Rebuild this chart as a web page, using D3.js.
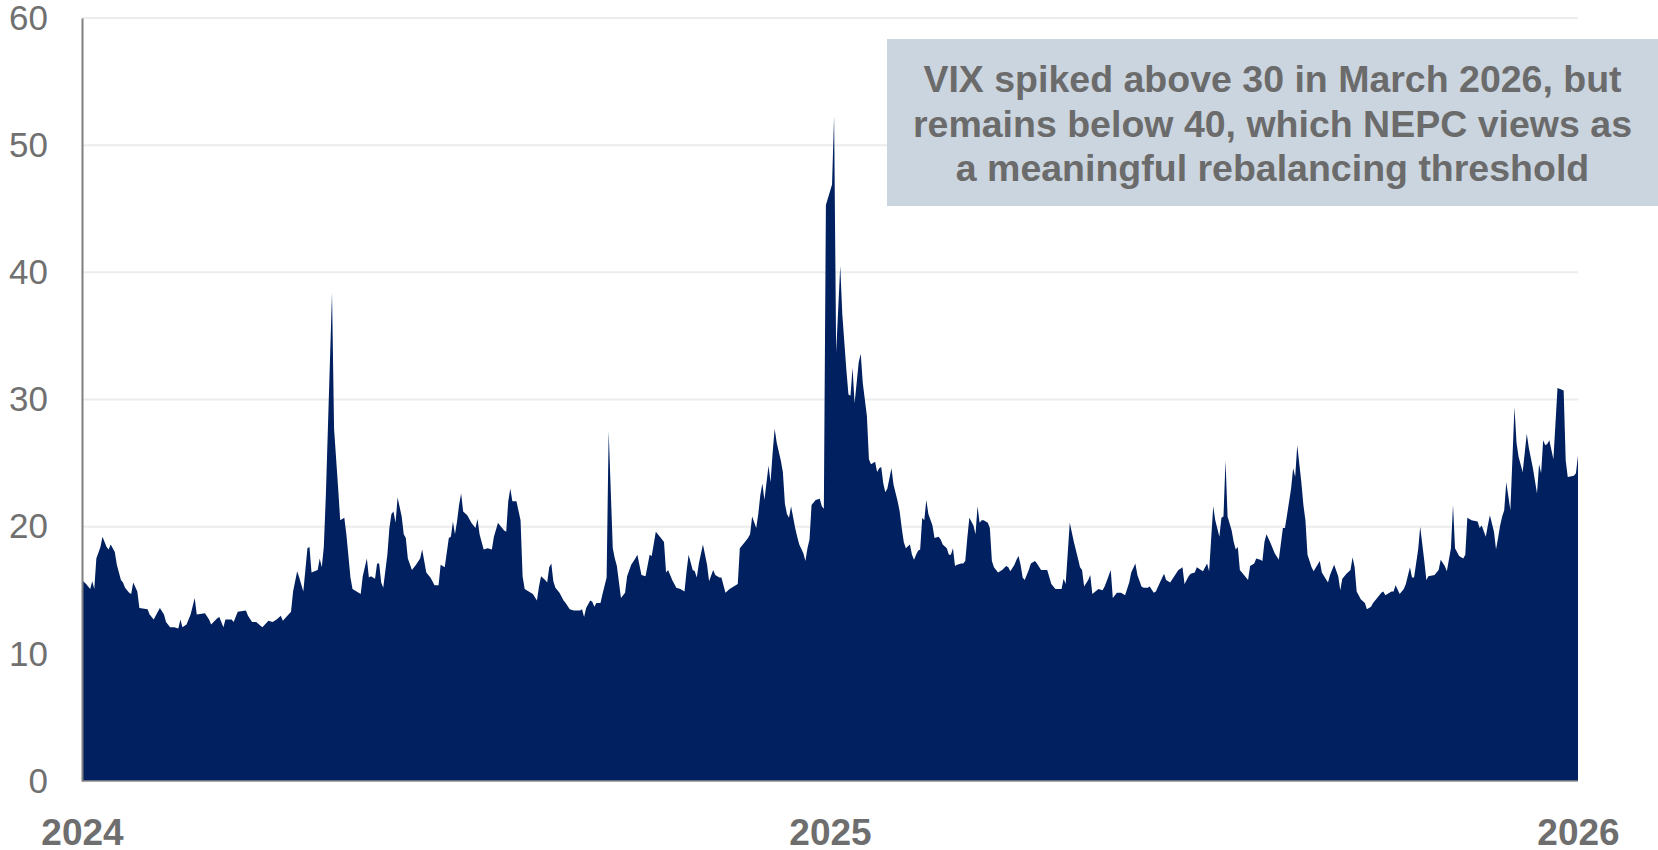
<!DOCTYPE html>
<html>
<head>
<meta charset="utf-8">
<script src="https://cdn.jsdelivr.net/npm/d3@7"></script>
<style>
  html, body { margin: 0; padding: 0; background: #fff; }
  svg { display: block; font-family: "Liberation Sans", Arial, Helvetica, sans-serif; }
</style>
</head>
<body>
<svg id="chart" width="1658" height="850"></svg>
<script>
// VIX daily close. days = calendar days after startDate
const startDate = "2024-04-05";
const days = [
  0,2,4,5,6,7,9,10,12,13,14,16,17,19,20,21,23,24,25,27,28,32,33,35,37,38,40,41,43,45,47,48,49,51,53,55,56,60,62,63,66,67,69,70,73,74,76,80,81,83,85,88,91,93,95,97,98,
  102,103,105,106,108,110,111,112,115,116,117,118,119,122,123,125,126,128,129,131,132,135,136,137,139,140,141,143,144,145,146,147,149,150,151,152,153,154,156,157,158,159,
  161,163,165,166,167,168,170,171,172,174,175,177,179,180,181,182,183,184,185,186,188,190,192,193,194,196,198,200,201,203,204,206,207,208,209,210,212,214,215,216,218,220,
  222,223,224,226,227,228,229,230,231,233,235,236,238,240,243,244,245,246,248,249,250,251,253,254,256,257,259,260,261,263,265,266,268,270,271,273,275,277,278,280,282,284,
  285,286,288,290,292,294,295,296,298,299,300,301,303,305,306,308,309,311,312,314,316,318,320,321,323,325,326,327,329,330,331,332,333,335,336,337,338,339,341,342,343,344,
  345,346,348,349,350,352,353,354,355,356,358,360,361,362,363,366,367,368,370,371,373,374,375,376,377,378,379,380,381,383,384,385,387,388,389,390,391,392,393,394,395,396,
  398,399,400,401,402,404,405,406,407,408,409,410,411,412,413,415,416,418,419,420,422,423,424,425,426,427,429,430,431,432,433,435,436,437,438,439,440,442,443,444,445,447,
  449,451,452,453,455,456,457,458,459,460,462,463,465,466,468,470,471,473,475,478,479,480,482,484,486,487,488,489,491,492,493,496,498,499,500,502,503,505,507,508,509,511,
  512,514,515,517,518,520,521,523,524,526,528,529,531,533,535,536,537,538,540,541,543,544,546,547,549,550,552,553,555,556,557,558,559,561,562,563,564,565,567,569,570,572,
  573,575,576,577,578,580,581,582,584,586,587,588,590,591,592,593,595,596,597,598,600,601,604,605,608,609,611,613,614,615,617,619,620,621,622,624,626,627,629,630,632,634,
  635,636,638,639,640,641,643,645,646,648,649,650,652,653,655,656,657,660,662,663,665,666,668,669,670,672,674,675,676,678,681,682,683,685,686,687,689,690,691,692,693,694,
  695,697,699,700,701,703,705,706,708,710,711,712,713,714,715,716,718,720,723,724,725,728,729,730
];
const vix = [
  15.8,15.5,15.1,15.7,15.1,17.5,18.4,19.2,18.4,18.2,18.6,18.0,17.0,15.8,15.6,15.2,14.8,14.7,15.6,14.9,13.6,13.5,13.1,12.7,13.3,13.6,13.1,12.5,12.1,12.1,12.0,12.7,12.1,12.3,13.1,14.4,13.1,13.2,12.7,12.3,12.8,12.9,12.1,12.7,12.7,12.5,13.3,13.4,13.0,12.5,12.5,12.1,12.6,12.5,12.7,13.0,12.6,
  13.3,14.9,16.5,16.0,14.9,18.3,18.4,16.4,16.6,17.5,16.8,18.4,22.5,38.4,27.7,23.0,20.5,20.7,19.4,16.0,15.1,14.8,14.7,16.1,17.5,16.0,16.1,15.9,17.1,17.1,15.6,15.2,17.8,19.9,21.0,21.2,20.3,22.3,20.8,19.4,19.1,17.5,
  16.6,17.0,17.5,18.2,17.3,16.4,16.0,15.7,15.4,15.4,17.0,16.8,19.1,19.2,20.4,19.4,20.4,21.7,22.6,21.2,20.9,20.3,19.9,20.6,19.4,18.2,18.3,18.2,19.2,20.3,20.1,19.7,19.6,22.0,23.0,22.0,22.0,20.5,16.1,15.1,14.9,14.7,
  14.2,15.3,16.1,15.8,15.6,16.8,17.1,15.7,15.2,14.8,14.2,14.0,13.5,13.4,13.4,13.5,12.9,13.6,14.2,14.1,13.7,14.0,14.0,14.7,16.0,27.5,18.3,17.5,16.9,14.4,14.8,16.1,17.0,17.5,17.8,16.2,16.1,17.8,17.7,19.6,19.2,18.8,
  16.4,16.6,15.8,15.2,15.1,14.9,16.5,17.8,16.6,16.5,16.0,17.1,18.6,17.0,15.7,16.6,16.2,16.0,16.0,14.8,15.1,15.3,15.5,18.3,18.7,19.1,19.4,20.8,19.9,21.0,22.5,23.4,22.1,24.8,23.5,25.8,27.7,26.6,25.2,24.3,21.8,21.0,
  20.7,21.6,19.9,19.2,18.6,17.9,17.3,18.3,19.0,21.7,22.1,22.2,21.6,21.4,45.3,46.9,52.3,33.7,40.5,36.7,32.3,30.4,30.3,32.5,29.7,31.3,32.9,33.6,31.3,28.7,25.3,24.9,25.1,24.3,24.6,24.7,23.4,22.7,23.0,23.8,24.6,23.3,
  22.0,21.2,19.9,18.8,18.3,18.6,17.8,17.4,17.8,18.1,18.2,20.7,20.5,22.1,21.0,20.1,19.1,19.2,19.0,18.6,18.3,17.8,17.8,18.3,16.9,17.0,17.1,17.1,17.3,19.1,20.7,20.1,19.4,21.6,20.3,20.5,20.5,20.3,19.9,17.3,16.8,16.4,
  16.6,16.9,16.8,16.5,17.0,17.4,17.7,17.0,16.0,15.8,16.6,17.1,17.3,17.1,16.6,16.6,16.6,15.5,15.1,15.1,15.9,15.5,20.3,18.8,17.5,16.8,16.6,15.3,15.8,16.2,14.7,15.1,15.0,15.3,15.7,16.6,14.4,14.8,14.8,14.7,14.6,15.6,
  16.4,17.1,16.2,15.3,15.2,15.2,15.3,14.8,14.9,15.6,16.3,15.8,15.6,16.1,16.6,16.7,16.8,15.5,16.1,16.3,16.4,16.8,16.6,16.5,17.1,16.5,21.6,20.5,19.2,20.7,20.8,25.2,20.8,19.7,18.8,18.2,18.4,16.6,16.2,15.8,16.9,17.1,
  17.5,17.4,17.3,18.8,19.4,18.7,18.3,17.9,17.4,19.9,19.9,20.9,23.0,24.6,23.9,26.4,23.5,21.7,20.5,17.8,16.8,16.5,17.3,16.4,15.6,16.2,17.0,16.1,15.0,15.9,16.3,16.6,17.6,16.8,14.9,14.3,14.0,13.5,13.7,14.0,14.4,14.8,
  14.9,14.6,14.8,14.9,14.9,15.4,14.7,15.1,15.5,16.8,16.0,16.0,18.2,20.0,17.3,15.8,16.1,16.2,16.6,17.4,16.9,16.5,18.3,21.7,18.3,17.7,17.5,17.8,20.7,20.5,20.4,19.9,20.1,19.2,20.1,20.9,19.6,18.2,19.1,20.1,20.8,21.3,
  23.5,21.3,29.4,26.6,25.5,24.3,27.3,26.2,24.6,22.6,24.9,24.2,26.8,26.4,26.5,26.8,25.3,30.9,30.7,25.2,23.9,24.0,24.2,25.6
];
const yTicks = [0, 10, 20, 30, 40, 50, 60];
const xTickYears = ["2024", "2025", "2026"];
const noteLines = [
  "VIX spiked above 30 in March 2026, but",
  "remains below 40, which NEPC views as",
  "a meaningful rebalancing threshold"
];

const svg = d3.select('#chart');
const margin = {left: 82, right: 80, top: 18, bottom: 69};
const width = 1658, height = 850;

const start = d3.timeParse('%Y-%m-%d')(startDate);
const end = d3.timeDay.offset(start, 730);

const data = days.map((d, i) => ({date: d3.timeDay.offset(start, d), value: vix[i]}));

const x = d3.scaleTime()
  .domain([start, end])
  .range([margin.left, width - margin.right]);

const y = d3.scaleLinear()
  .domain([0, 60])
  .range([height - margin.bottom, margin.top]);

// gridlines
svg.append('g')
  .selectAll('line')
  .data(yTicks.filter(t => t > 0))
  .join('line')
  .attr('x1', x.range()[0])
  .attr('x2', x.range()[1])
  .attr('y1', d => y(d))
  .attr('y2', d => y(d))
  .attr('stroke', '#ececec')
  .attr('stroke-width', 2);

// area
const area = d3.area()
  .x(d => x(d.date))
  .y0(y(0))
  .y1(d => y(d.value));

svg.append('path')
  .datum(data)
  .attr('d', area)
  .attr('fill', '#002060');

// baseline + y axis line
svg.append('line')
  .attr('x1', x.range()[0]).attr('x2', x.range()[1])
  .attr('y1', y(0)).attr('y2', y(0))
  .attr('stroke', '#8c8c8c').attr('stroke-width', 1.5);

const yAxis = svg.append('g')
  .attr('transform', `translate(${margin.left},0)`)
  .call(d3.axisLeft(y).tickValues(yTicks).tickSize(0).tickPadding(34));
yAxis.select('.domain').attr('stroke', '#7f7f7f').attr('stroke-width', 2);
yAxis.selectAll('text')
  .attr('font-size', 35)
  .attr('fill', '#707070')
  .attr('font-family', '"Liberation Sans", Arial, sans-serif');

const xAxis = svg.append('g')
  .attr('transform', `translate(0,${y(0)})`)
  .call(d3.axisBottom(x)
    .tickValues([start, d3.timeYear.offset(start, 1), d3.timeYear.offset(start, 2)])
    .tickFormat((d, i) => xTickYears[i])
    .tickSize(0).tickPadding(38));
xAxis.select('.domain').remove();
xAxis.selectAll('text')
  .attr('font-size', 37)
  .attr('font-weight', 'bold')
  .attr('fill', '#6e6e6e')
  .attr('font-family', '"Liberation Sans", Arial, sans-serif');

// annotation box
const note = svg.append('g');
note.append('rect')
  .attr('x', 887).attr('y', 39)
  .attr('width', width - 887).attr('height', 167)
  .attr('fill', '#cbd5df');

note.selectAll('text')
  .data(noteLines)
  .join('text')
  .attr('x', (887 + width) / 2)
  .attr('y', (d, i) => 92 + i * 44.5)
  .attr('text-anchor', 'middle')
  .attr('font-size', 37.5)
  .attr('font-weight', 'bold')
  .attr('fill', '#6b6b6b')
  .text(d => d);
</script>
</body>
</html>
